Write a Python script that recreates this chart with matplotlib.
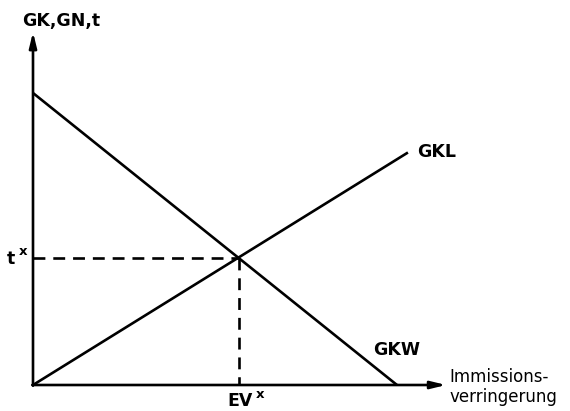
import matplotlib.pyplot as plt

# curve end points (data units)
gkw_x = [0.0, 10.0]
gkw_y = [8.0, 0.0]
gkl_x = [0.0, 10.3]
gkl_y = [0.0, 6.37]
ev_x = 5.66      # EV^x
t_x = 3.47       # t^x

x_axis_end = 11.35
y_axis_end = 9.67

fig = plt.figure(figsize=(5.7, 4.11), dpi=100)
ax = fig.add_axes([0, 0, 1, 1])
ax.set_xlim(-33 / 36.4, (570 - 33) / 36.4)
ax.set_ylim(-26 / 36.5, 385 / 36.5)
ax.axis('off')

lw = 1.9
arr = dict(arrowstyle='-|>,head_length=0.9,head_width=0.22', lw=lw, color='black',
           shrinkA=0, shrinkB=0)
# axes with arrows
ax.annotate('', xy=(x_axis_end, 0), xytext=(-0.02, 0), arrowprops=arr)
ax.annotate('', xy=(0, y_axis_end), xytext=(0, -0.02), arrowprops=arr)

# lines
ax.plot(gkw_x, gkw_y, color='black', lw=lw, solid_capstyle='butt')
ax.plot(gkl_x, gkl_y, color='black', lw=lw, solid_capstyle='butt')

# dashed guides
ax.plot([0, ev_x], [t_x, t_x], color='black', lw=lw, dashes=(4.5, 3))
ax.plot([ev_x, ev_x], [t_x, 0], color='black', lw=lw, dashes=(4.5, 3))

lab = dict(family='DejaVu Sans', fontweight='bold', color='black', fontsize=12.5)
sup = dict(family='DejaVu Sans', fontweight='bold', color='black', fontsize=9.5)

ax.text(-0.3, 9.98, 'GK,GN,t', ha='left', va='center', **lab)
ax.text(-0.5, t_x - 0.02, 't', ha='right', va='center', **lab)
ax.text(-0.28, t_x + 0.2, 'x', ha='center', va='center', **sup)
ax.text(ev_x - 0.33, -0.44, 'EV', ha='left', va='center', **lab)
ax.text(ev_x + 0.58, -0.27, 'x', ha='center', va='center', **sup)
ax.text(10.55, 6.38, 'GKL', ha='left', va='center', **lab)
ax.text(9.35, 0.96, 'GKW', ha='left', va='center', **lab)
ax.text(11.45, -0.05, 'Immissions-\nverringerung', ha='left', va='center',
        family='DejaVu Sans', fontsize=12, linespacing=1.15)

fig.savefig('out.png', dpi=100)
